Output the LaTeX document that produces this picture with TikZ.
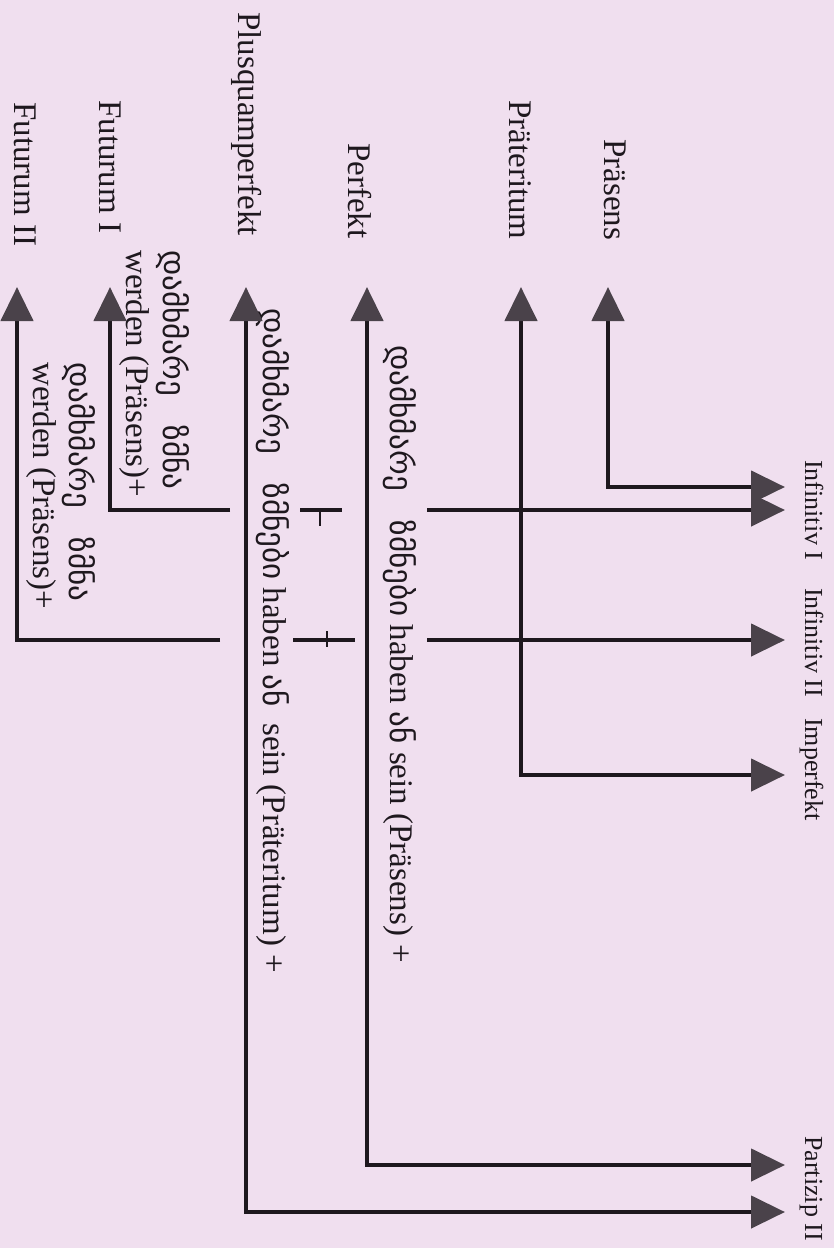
\documentclass[tikz,border=0pt]{standalone}
\usepackage{fontspec}
\setmainfont{Liberation Serif}
\newfontfamily\geo{DejaVu Sans}[Scale=0.94]
\usetikzlibrary{arrows.meta}
\definecolor{bg}{RGB}{240,223,239}
\definecolor{ink}{RGB}{30,24,30}
\definecolor{headc}{RGB}{74,66,74}
\begin{document}
\begin{tikzpicture}[x=1pt,y=-1pt,
  toplab/.style={rotate=-90, anchor=base west, inner sep=0pt, text=ink, font=\fontsize{33}{38}\selectfont},
  rightlab/.style={rotate=-90, anchor=base west, inner sep=0pt, text=ink, font=\fontsize{26}{30}\selectfont},
  midlab/.style={rotate=-90, anchor=base west, inner sep=0pt, text=ink, font=\fontsize{33}{36}\selectfont},
  ln/.style={draw=ink, line width=4.5pt, line join=miter},
  tipA/.tip={Triangle[length=34pt,width=32pt,color=headc]},
  arr/.style={ln, -tipA},
  darr/.style={ln, tipA-tipA},
  stub/.style={draw=ink, line width=4pt},
  tick/.style={draw=ink, line width=1.6pt}
]
\fill[bg] (0,0) rectangle (834,1248);
\useasboundingbox (0,0) rectangle (834,1248);

% top labels
\node[toplab] (fut2)  at (14,102)  {Futurum II};
\node[toplab] (fut1)  at (99,100)  {Futurum I};
\node[toplab] (plusq) at (238,12)  {Plusquamperfekt};
\node[toplab] (perf)  at (348,143) {Perfekt};
\node[toplab] (praet) at (509,100) {Präteritum};
\node[toplab] (praes) at (604,139) {Präsens};

% right labels
\node[rightlab] (inf1) at (805,460)  {Infinitiv I};
\node[rightlab] (inf2) at (805,588)  {Infinitiv II};
\node[rightlab] (impf) at (805,718)  {Imperfekt};
\node[rightlab] (part) at (805,1136) {Partizip II};

% middle texts
\node[midlab] (tperf)  at (390,345) {{\geo დამხმარე\ \ \ ზმნები}\ haben {\geo ან} sein (Präsens) +};
\node[midlab] (tplusq) at (263,308) {{\geo დამხმარე\ \ \ ზმნები}\ haben {\geo ან}\ \ sein (Präteritum) +};
\node[midlab] (tf1a)   at (163,250) {\geo დამხმარე\ \ \ ზმნა};
\node[midlab] (tf1b)   at (126,250) {werden (Präsens)+};
\node[midlab] (tf2a)   at (69,362)  {\geo დამხმარე\ \ \ ზმნა};
\node[midlab] (tf2b)   at (33,362)  {werden (Präsens)+};

% coordinates
\coordinate (uPraes) at (608,287);
\coordinate (cPraes) at (608,487);
\coordinate (rPraes) at (785,487);
\coordinate (uPraet) at (521,287);
\coordinate (cPraet) at (521,775);
\coordinate (rPraet) at (785,775);
\coordinate (uPerf)  at (367,287);
\coordinate (cPerf)  at (367,1165);
\coordinate (rPerf)  at (785,1165);
\coordinate (uPlus)  at (246,287);
\coordinate (cPlus)  at (246,1212);
\coordinate (rPlus)  at (785,1212);
\coordinate (uF1) at (110,287);
\coordinate (cF1) at (110,510);
\coordinate (eF1) at (230,510);
\coordinate (sF1a) at (300,510);
\coordinate (sF1b) at (342,510);
\coordinate (kF1a) at (320,510);
\coordinate (kF1b) at (320,526);
\coordinate (bF1) at (427,510);
\coordinate (rF1) at (785,510);
\coordinate (uF2) at (17,287);
\coordinate (cF2) at (17,640);
\coordinate (eF2) at (220,640);
\coordinate (sF2a) at (293,640);
\coordinate (sF2b) at (355,640);
\coordinate (kF2a) at (327,631);
\coordinate (kF2b) at (327,647);
\coordinate (bF2) at (427,640);
\coordinate (rF2) at (785,640);

% connectors
\draw[darr] (uPraes) -- (cPraes) -- (rPraes);
\draw[darr] (uPraet) -- (cPraet) -- (rPraet);
\draw[darr] (uPerf) -- (cPerf) -- (rPerf);
\draw[darr] (uPlus) -- (cPlus) -- (rPlus);
\draw[arr] (eF1) -- (cF1) -- (uF1);
\draw[arr] (eF2) -- (cF2) -- (uF2);
\draw[stub] (sF1a) -- (sF1b);
\draw[tick] (kF1a) -- (kF1b);
\draw[stub] (sF2a) -- (sF2b);
\draw[tick] (kF2a) -- (kF2b);
\draw[arr] (bF1) -- (rF1);
\draw[arr] (bF2) -- (rF2);
\end{tikzpicture}
\end{document}
